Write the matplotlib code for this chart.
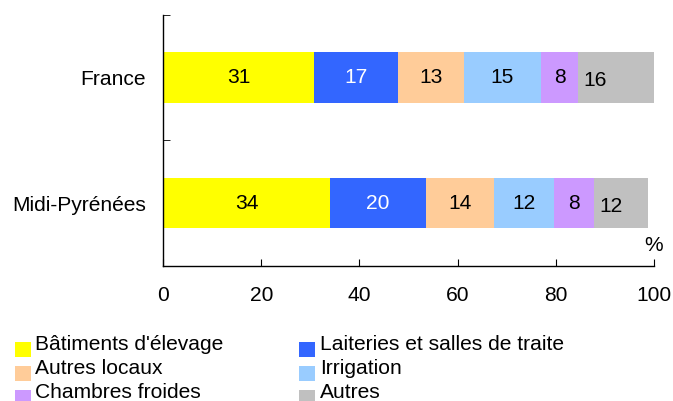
import matplotlib
matplotlib.use("Agg")
import matplotlib.pyplot as plt
from matplotlib.patches import Rectangle
import numpy as np

plt.rcParams['font.family'] = ['Liberation Sans', 'DejaVu Sans']

regions = ["Midi-Pyrénées", "France"]
categories = ["Bâtiments d'élevage", "Laiteries et salles de traite",
              "Autres locaux", "Irrigation", "Chambres froides", "Autres"]
colors = ["#FFFF00", "#3366FF", "#FFCC99", "#99CCFF", "#CC99FF", "#C0C0C0"]
text_colors = ["black", "white", "black", "black", "black", "black"]

# segment widths as drawn (percent)
widths_midi = [34.0, 19.6, 13.8, 12.3, 8.0, 11.1]
widths_france = [30.8, 17.1, 13.4, 15.7, 7.5, 15.5]
# printed labels
labels_midi = [34, 20, 14, 12, 8, 12]
labels_france = [31, 17, 13, 15, 8, 16]

widths = [widths_midi, widths_france]
labels = [labels_midi, labels_france]

W, H = 673, 401
fig = plt.figure(figsize=(W/100, H/100), dpi=100)
ax = fig.add_axes([163/W, 1-266/H, (654-163)/W, (266-14.5)/H])

FS = 15.1
for yi, (w, lab) in enumerate(zip(widths, labels)):
    left = 0.0
    for k, (v, l) in enumerate(zip(w, lab)):
        ax.barh(yi, v, left=left, height=0.4, color=colors[k], edgecolor='none')
        if k == len(w) - 1:
            ax.text(left + 1.1, yi - 0.028, str(l), ha='left', va='center',
                    fontsize=FS, color=text_colors[k],
                    bbox=dict(facecolor=colors[k], edgecolor='none', pad=1.5))
        else:
            ax.text(left + v / 2, yi, str(l), ha='center', va='center',
                    fontsize=FS, color=text_colors[k])
        left += v

ax.set_xlim(0, 100)
ax.set_ylim(-0.5, 1.5)
ax.spines['top'].set_visible(False)
ax.spines['right'].set_visible(False)
for s in ('left', 'bottom'):
    ax.spines[s].set_linewidth(1.0)

ax.set_xticks(np.arange(0, 101, 20))
ax.tick_params(axis='x', direction='in', length=5, pad=14.5, labelsize=FS)
ax.set_yticks([0, 1])
ax.set_yticklabels(regions)
ax.tick_params(axis='y', which='major', length=0, pad=12.2, labelsize=FS)
ax.set_yticks([-0.5, 0.5, 1.5], minor=True)
ax.tick_params(axis='y', which='minor', direction='in', length=5)

ax.text(100, -0.5 + (266-245)/126, "%", ha='center', va='center', fontsize=FS)

# legend (manual)
sq_x = [15, 299]
txt_x = [35, 320]
row_y = [345, 369, 393]
sq_w, sq_h = 16, 15
for i, (cat, col) in enumerate(zip(categories, colors)):
    r, c = i // 2, i % 2
    yc = row_y[r]
    fig.patches.append(Rectangle((sq_x[c]/W, 1-(yc+4.5+sq_h/2)/H), sq_w/W, sq_h/H,
                                 transform=fig.transFigure, facecolor=col,
                                 edgecolor='none'))
    fig.text(txt_x[c]/W, 1-yc/H, cat, ha='left', va='center', fontsize=FS)

fig.savefig("out.png", dpi=100)
